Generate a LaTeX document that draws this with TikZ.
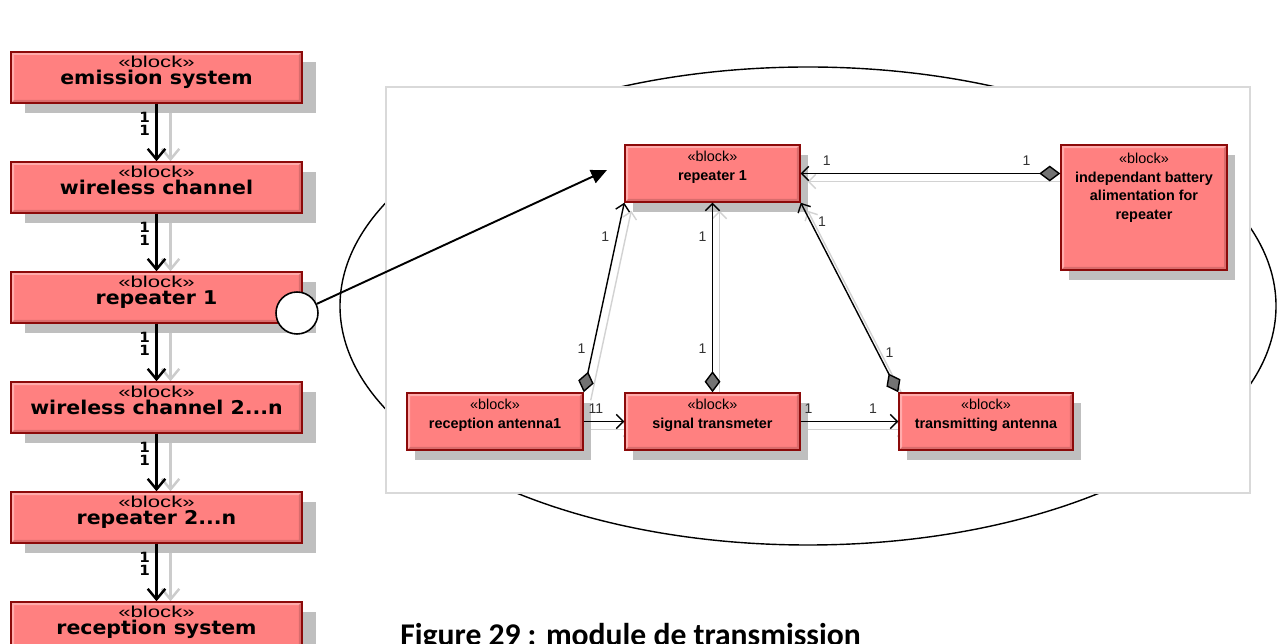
\documentclass[tikz,border=0pt]{standalone}
\usepackage{fontspec}
\setmainfont{Liberation Sans}
\newfontfamily\heavyfont[FakeStretch=1.08]{DejaVu Sans}
\newfontfamily\widefont[FakeStretch=1.4]{Liberation Sans}
\newfontfamily\capfont{Carlito}
\usetikzlibrary{arrows.meta,shadows,positioning}
\pgfdeclarelayer{back}
\pgfdeclarelayer{wires}
\pgfsetlayers{back,wires,main}
\definecolor{blockfill}{HTML}{FF8080}
\definecolor{blockedge}{HTML}{8C0A0A}
\tikzset{
  bevel/.style={path picture={
    \fill[white,opacity=.35] (path picture bounding box.north west) -- (path picture bounding box.north east)
      -- ++(-3,3) -| ([shift={(3,-3)}]path picture bounding box.south west) -- (path picture bounding box.south west) -- cycle;
    \fill[black,opacity=.15] (path picture bounding box.south east) -- (path picture bounding box.north east)
      -- ++(-3,3) |- ([shift={(3,-3)}]path picture bounding box.south west) -- (path picture bounding box.south west) -- cycle;
  }},
  chainblock/.style={draw=blockedge,fill=blockfill,line width=0.85pt,bevel,
    minimum width=5.82cm,minimum height=1.02cm,inner sep=0pt,align=center,
    text height=10.5pt,text depth=2pt,
    font=\heavyfont\bfseries\fontsize{10.8}{10.2}\selectfont,
    drop shadow={shadow xshift=0.28cm,shadow yshift=-0.2cm,fill=gray!50,opacity=1}},
  partblock/.style={draw=blockedge,fill=blockfill,line width=0.85pt,bevel,
    minimum width=3.5cm,minimum height=1.14cm,inner sep=0pt,align=center,
    text height=10.5pt,text depth=2pt,
    font=\bfseries\fontsize{8.2}{10.8}\selectfont,
    drop shadow={shadow xshift=0.16cm,shadow yshift=-0.2cm,fill=gray!50,opacity=1}},
  chainwire/.style={line width=1.4pt,-{Straight Barb[length=6pt,width=10pt]}},
  chainshade/.style={draw=gray!40,line width=1.4pt,-{Straight Barb[length=6pt,width=10pt]},
    transform canvas={shift={(14,0)}}},
  chainmult/.style={left=2pt,inner sep=1pt,font=\heavyfont\bfseries\fontsize{8}{8}\selectfont},
  partwire/.style={line width=0.8pt,-{Straight Barb[length=4pt,width=8pt]}},
  whole/.style={line width=0.8pt,{Diamond[length=12pt,width=9pt,fill=black!55]}-{Straight Barb[length=4pt,width=8pt]}},
  partshade/.style={draw=gray!35,line width=0.8pt,-{Straight Barb[length=4pt,width=8pt]},
    transform canvas={shift={(7,8)}}},
  mult/.style={inner sep=1pt,text=black!80,font=\fontsize{8}{8}\selectfont},
  panel/.style={draw=gray!30,line width=1.6pt,fill=white,minimum width=17.28cm,minimum height=8.12cm},
  zoomring/.style={circle,draw,fill=white,line width=0.9pt,minimum size=0.84cm,inner sep=0pt},
  zoomarrow/.style={line width=1.1pt,-{Triangle[length=9pt,width=8pt]}},
  figcaption/.style={anchor=base west,inner sep=0pt,font=\capfont\bfseries\fontsize{18}{20}\selectfont}
}
\begin{document}
\begin{tikzpicture}[x=0.02cm,y=-0.02cm]
  \useasboundingbox (0,0) rectangle (1281,644);

  % zoom frame behind the detail
  \begin{pgfonlayer}{back}
    \draw[line width=0.8pt] (808,306) ellipse [x radius=468,y radius=239];
    \node[panel] (frame) at (818,290) {};
  \end{pgfonlayer}

  % transmission chain
  \foreach \blk [count=\i] in {emission system,wireless channel,repeater 1,
      wireless channel 2{.}{.}{.}n,repeater 2{.}{.}{.}n,reception system}
    \node[chainblock] (c\i) at (156.5,{77.5+110*(\i-1)})
      {{\widefont\mdseries\fontsize{9}{10}\selectfont «block»}\\\blk};
  \foreach \i/\j in {1/2,2/3,3/4,4/5,5/6}
    \draw[chainwire] (c\i) -- (c\j)
      node[chainmult,pos=.24] {1} node[chainmult,pos=.46] {1};

  % repeater detail
  \node[partblock] (rep) at (712.5,173.5) {{\mdseries «block»}\\repeater 1};
  \node[partblock,minimum width=3.52cm] (recv) at (495,421.5) {{\mdseries «block»}\\reception antenna1};
  \node[partblock] (sig) at (712.5,421.5) {{\mdseries «block»}\\signal transmeter};
  \node[partblock,minimum width=3.48cm] (trans) at (986,421.5) {{\mdseries «block»}\\transmitting antenna};
  \node[partblock,minimum width=3.32cm,minimum height=2.5cm,text height=16.2pt] (bat) at (1144,207.5)
    {{\mdseries «block»}\\independant battery\\alimentation for\\repeater};

  \begin{pgfonlayer}{wires}
    \foreach \a/\b in {rep.east -| bat.west/rep.east,recv.north east/rep.south west,
        sig.north/rep.south,trans.north west/rep.south east,recv.east/sig.west,sig.east/trans.west}
      \draw[partshade] (\a) -- (\b);
    \foreach \i/\j in {1/2,2/3,3/4,4/5,5/6}
      \draw[chainshade] (c\i) -- (c\j);
  \end{pgfonlayer}

  \draw[whole] (rep.east -| bat.west) -- (rep.east)
    node[mult,pos=.13,above=3pt] {1} node[mult,pos=.9,above=3pt] {1};
  \draw[whole] (recv.north east) -- (rep.south west)
    node[mult,pos=.23,left=3pt] {1} node[mult,pos=.82,left=3pt] {1};
  \draw[whole] (sig.north) -- (rep.south)
    node[mult,pos=.23,left=2pt] {1} node[mult,pos=.82,left=2pt] {1};
  \draw[whole] (trans.north west) -- (rep.south east)
    node[mult,pos=.21,right=3pt] {1} node[mult,pos=.9,right=3pt] {1};
  \draw[partwire] (recv) -- (sig) node[mult,pos=.3,above=3pt] {11};
  \draw[partwire] (sig) -- (trans)
    node[mult,pos=.08,above=3pt] {1} node[mult,pos=.74,above=3pt] {1};

  % zoom pointer
  \node[zoomring] (ring) at (297,313) {};
  \coordinate (ringtip) at (607,170);
  \draw[zoomarrow] (ring) -- (ringtip);

  \node[figcaption] (cap) at (400,645.5) {Figure 29 : module de transmission};
\end{tikzpicture}
\end{document}
